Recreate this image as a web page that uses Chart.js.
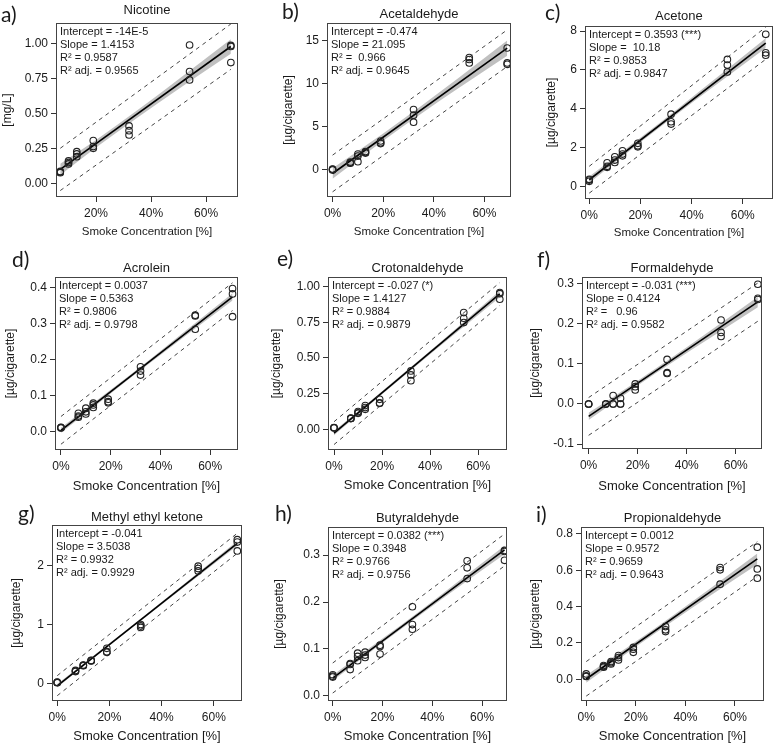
<!DOCTYPE html>
<html>
<head>
<meta charset="utf-8">
<script src="https://cdn.jsdelivr.net/npm/chart.js@4"></script>
<style>
  html, body { margin: 0; padding: 0; background: #fff; }
  #wrap { position: relative; width: 778px; height: 744px; overflow: hidden; }
  #wrap canvas { position: absolute; }
</style>
</head>
<body>
<div id="wrap"></div>
<script>
// smoke concentrations [%]
const conc = [0, 7, 10, 13, 19, 32, 54, 69];
const concNicotine = [7, 10, 13, 19, 32, 54, 69];
const bandX = [0, 20, 35, 50, 69];
const bandXNicotine = [7, 20, 35, 50, 69];
const xTicks = [0, 20, 40, 60];

// a) Nicotine
const nicotineY = [[0.08, 0.085, 0.076], [0.16, 0.148, 0.138], [0.226, 0.21, 0.19], [0.305, 0.262, 0.25], [0.41, 0.376, 0.345], [0.988, 0.798, 0.738], [0.985, 0.978, 0.862]];
const nicotineFit = [0.099, 0.977];
const nicotineBandHi = [0.139, 0.310, 0.521, 0.743, 1.029];
const nicotineBandLo = [0.059, 0.256, 0.469, 0.673, 0.925];
const nicotinePredHi = [0.25, 1.138];
const nicotinePredLo = [-0.052, 0.814];
const nicotineStats = ['Intercept = -14E-5', 'Slope = 1.4153', 'R² = 0.9587', 'R² adj. = 0.9565'];
const nicotineTicks = [0, 0.25, 0.5, 0.75, 1];

// b) Acetaldehyde
const acetaldehydeY = [[0, -0.08, 0.05], [0.85, 0.77, 0.72], [1.78, 1.55, 0.9], [2.08, 1.98, 1.9], [3.3, 3.1, 3.0], [6.96, 6.3, 5.49], [12.99, 12.76, 12.37], [14.1, 12.37, 12.2]];
const acetaldehydeFit = [-0.474, 14.08];
const acetaldehydeBandHi = [0.15, 4.18, 7.36, 10.67, 14.96];
const acetaldehydeBandLo = [-1.09, 3.32, 6.46, 9.47, 13.2];
const acetaldehydePredHi = [1.66, 16.2];
const acetaldehydePredLo = [-2.6, 11.95];
const acetaldehydeStats = ['Intercept = -0.474', 'Slope = 21.095', 'R² =  0.966', 'R² adj. = 0.9645'];
const acetaldehydeTicks = [0, 5, 10, 15];

// c) Acetone
const acetoneY = [[0.38, 0.34, 0.28], [1.23, 1.05, 1.0], [1.54, 1.37, 1.25], [1.85, 1.68, 1.59], [2.23, 2.1, 2.05], [3.73, 3.34, 3.22], [6.54, 6.25, 5.9], [7.83, 6.88, 6.76]];
const acetoneFit = [0.359, 7.383];
const acetoneBandHi = [0.53, 2.52, 4.05, 5.62, 7.63];
const acetoneBandLo = [0.19, 2.28, 3.80, 5.28, 7.13];
const acetonePredHi = [1.05, 8.2];
const acetonePredLo = [-0.33, 6.55];
const acetoneStats = ['Intercept = 0.3593 (***)', 'Slope =  10.18', 'R² = 0.9853', 'R² adj. = 0.9847'];
const acetoneTicks = [0, 2, 4, 6, 8];

// d) Acrolein
const acroleinY = [[0.012, 0.011, 0.01], [0.051, 0.043, 0.04], [0.065, 0.055, 0.049], [0.079, 0.074, 0.067], [0.09, 0.083, 0.08], [0.18, 0.168, 0.157], [0.323, 0.321, 0.284], [0.397, 0.382, 0.319]];
const acroleinFit = [0.0037, 0.374];
const acroleinBandHi = [0.0107, 0.116, 0.196, 0.279, 0.384];
const acroleinBandLo = [-0.0033, 0.106, 0.186, 0.265, 0.364];
const acroleinPredHi = [0.042, 0.413];
const acroleinPredLo = [-0.035, 0.336];
const acroleinStats = ['Intercept = 0.0037', 'Slope = 0.5363', 'R² = 0.9806', 'R² adj. = 0.9798'];
const acroleinTicks = [0, 0.1, 0.2, 0.3, 0.4];

// e) Crotonaldehyde
const crotonaldehydeY = [[0.012, 0.01, 0.011], [0.078, 0.076, 0.075], [0.124, 0.116, 0.112], [0.166, 0.152, 0.14], [0.21, 0.182, 0.185], [0.409, 0.381, 0.341], [0.818, 0.778, 0.748], [0.958, 0.95, 0.911]];
const crotonaldehydeFit = [-0.027, 0.948];
const crotonaldehydeBandHi = [-0.012, 0.267, 0.478, 0.694, 0.970];
const crotonaldehydeBandLo = [-0.042, 0.245, 0.456, 0.664, 0.926];
const crotonaldehydePredHi = [0.053, 1.028];
const crotonaldehydePredLo = [-0.107, 0.868];
const crotonaldehydeStats = ['Intercept = -0.027 (*)', 'Slope = 1.4127', 'R² = 0.9884', 'R² adj. = 0.9879'];
const crotonaldehydeTicks = [0, 0.25, 0.5, 0.75, 1];

// f) Formaldehyde
const formaldehydeY = [[0, 0, 0], [0, 0, 0], [0.021, 0, 0], [0.014, 0, 0], [0.05, 0.043, 0.035], [0.111, 0.078, 0.076], [0.209, 0.178, 0.168], [0.298, 0.263, 0.26]];
const formaldehydeFit = [-0.031, 0.254];
const formaldehydeBandHi = [-0.022, 0.058, 0.120, 0.184, 0.267];
const formaldehydeBandLo = [-0.040, 0.046, 0.107, 0.166, 0.241];
const formaldehydePredHi = [0.016, 0.301];
const formaldehydePredLo = [-0.078, 0.206];
const formaldehydeStats = ['Intercept = -0.031 (***)', 'Slope = 0.4124', 'R² =   0.96', 'R² adj. = 0.9582'];
const formaldehydeTicks = [-0.1, 0, 0.1, 0.2, 0.3];

// g) Methyl ethyl ketone
const mekY = [[0.02, 0.01, 0.015], [0.22, 0.21, 0.2], [0.31, 0.305, 0.3], [0.39, 0.385, 0.38], [0.595, 0.538, 0.527], [1.0, 0.975, 0.95], [1.99, 1.95, 1.91], [2.44, 2.4, 2.25]];
const mekFit = [-0.041, 2.377];
const mekBandHi = [-0.013, 0.679, 1.205, 1.738, 2.417];
const mekBandLo = [-0.069, 0.641, 1.165, 1.684, 2.337];
const mekPredHi = [0.13, 2.55];
const mekPredLo = [-0.21, 2.21];
const mekStats = ['Intercept = -0.041', 'Slope = 3.5038', 'R² = 0.9932', 'R² adj. = 0.9929'];
const mekTicks = [0, 1, 2];

// h) Butyraldehyde
const butyraldehydeY = [[0.045, 0.042, 0.04], [0.069, 0.067, 0.056], [0.091, 0.084, 0.075], [0.093, 0.087, 0.082], [0.108, 0.105, 0.089], [0.19, 0.152, 0.142], [0.288, 0.273, 0.25], [0.31, 0.308, 0.289]];
const butyraldehydeFit = [0.038, 0.311];
const butyraldehydeBandHi = [0.044, 0.122, 0.181, 0.242, 0.320];
const butyraldehydeBandLo = [0.032, 0.113, 0.172, 0.230, 0.302];
const butyraldehydePredHi = [0.07, 0.345];
const butyraldehydePredLo = [0.006, 0.277];
const butyraldehydeStats = ['Intercept = 0.0382 (***)', 'Slope = 0.3948', 'R² = 0.9766', 'R² adj. = 0.9756'];
const butyraldehydeTicks = [0, 0.1, 0.2, 0.3];

// i) Propionaldehyde
const propionaldehydeY = [[0.029, 0.018, 0.015], [0.075, 0.07, 0.066], [0.097, 0.09, 0.084], [0.13, 0.119, 0.106], [0.175, 0.165, 0.148], [0.29, 0.272, 0.262], [0.615, 0.602, 0.523], [0.727, 0.607, 0.556]];
const propionaldehydeFit = [0.001, 0.662];
const propionaldehydeBandHi = [0.022, 0.207, 0.351, 0.500, 0.692];
const propionaldehydeBandLo = [-0.020, 0.179, 0.321, 0.460, 0.632];
const propionaldehydePredHi = [0.097, 0.757];
const propionaldehydePredLo = [-0.093, 0.566];
const propionaldehydeStats = ['Intercept = 0.0012', 'Slope = 0.9572', 'R² = 0.9659', 'R² adj. = 0.9643'];
const propionaldehydeTicks = [0, 0.2, 0.4, 0.6, 0.8];

const UG = '[µg/cigarette]';
const panels = [
    { letter: 'a', title: 'Nicotine', unit: '[mg/L]', x: concNicotine, y: nicotineY, fit: nicotineFit, bx: bandXNicotine, hi: nicotineBandHi, lo: nicotineBandLo, phi: nicotinePredHi, plo: nicotinePredLo, stats: nicotineStats, yTicks: nicotineTicks, dec: 2, xr: [5.45, 71.6], yr: [-0.098, 1.145] },
    { letter: 'b', title: 'Acetaldehyde', unit: UG, x: conc, y: acetaldehydeY, fit: acetaldehydeFit, bx: bandX, hi: acetaldehydeBandHi, lo: acetaldehydeBandLo, phi: acetaldehydePredHi, plo: acetaldehydePredLo, stats: acetaldehydeStats, yTicks: acetaldehydeTicks, dec: 0, xr: [-2.2, 70.5], yr: [-3.2, 17.0] },
    { letter: 'c', title: 'Acetone', unit: UG, x: conc, y: acetoneY, fit: acetoneFit, bx: bandX, hi: acetoneBandHi, lo: acetoneBandLo, phi: acetonePredHi, plo: acetonePredLo, stats: acetoneStats, yTicks: acetoneTicks, dec: 0, xr: [-1.65, 71.8], yr: [-0.63, 8.26] },
    { letter: 'd', title: 'Acrolein', unit: UG, x: conc, y: acroleinY, fit: acroleinFit, bx: bandX, hi: acroleinBandHi, lo: acroleinBandLo, phi: acroleinPredHi, plo: acroleinPredLo, stats: acroleinStats, yTicks: acroleinTicks, dec: 1, xr: [-2.4, 71.2], yr: [-0.051, 0.429] },
    { letter: 'e', title: 'Crotonaldehyde', unit: UG, x: conc, y: crotonaldehydeY, fit: crotonaldehydeFit, bx: bandX, hi: crotonaldehydeBandHi, lo: crotonaldehydeBandLo, phi: crotonaldehydePredHi, plo: crotonaldehydePredLo, stats: crotonaldehydeStats, yTicks: crotonaldehydeTicks, dec: 2, xr: [-2.5, 72], yr: [-0.145, 1.067] },
    { letter: 'f', title: 'Formaldehyde', unit: UG, x: conc, y: formaldehydeY, fit: formaldehydeFit, bx: bandX, hi: formaldehydeBandHi, lo: formaldehydeBandLo, phi: formaldehydePredHi, plo: formaldehydePredLo, stats: formaldehydeStats, yTicks: formaldehydeTicks, dec: 1, xr: [-2.7, 70.7], yr: [-0.112, 0.316] },
    { letter: 'g', title: 'Methyl ethyl ketone', unit: UG, x: conc, y: mekY, fit: mekFit, bx: bandX, hi: mekBandHi, lo: mekBandLo, phi: mekPredHi, plo: mekPredLo, stats: mekStats, yTicks: mekTicks, dec: 0, xr: [-2.0, 70.8], yr: [-0.30, 2.69] },
    { letter: 'h', title: 'Butyraldehyde', unit: UG, x: conc, y: butyraldehydeY, fit: butyraldehydeFit, bx: bandX, hi: butyraldehydeBandHi, lo: butyraldehydeBandLo, phi: butyraldehydePredHi, plo: butyraldehydePredLo, stats: butyraldehydeStats, yTicks: butyraldehydeTicks, dec: 1, xr: [-1.9, 70.0], yr: [-0.011, 0.36] },
    { letter: 'i', title: 'Propionaldehyde', unit: UG, x: conc, y: propionaldehydeY, fit: propionaldehydeFit, bx: bandX, hi: propionaldehydeBandHi, lo: propionaldehydeBandLo, phi: propionaldehydePredHi, plo: propionaldehydePredLo, stats: propionaldehydeStats, yTicks: propionaldehydeTicks, dec: 1, xr: [-2.1, 71.7], yr: [-0.12, 0.838] }
];

// page layout: plot box [L,T,R,B], title baseline, y title x, x title y, letter position
const colLeft = [0, 260, 518], colWidth = [260, 258, 260];
const rowTop = [0, 240, 490], rowHeight = [246, 256, 254];
const boxes = [
    { box: [56, 23, 238, 197], titleY: 13.5, yTitleX: 8, xTitleY: 232, lx: 1, ly: 22 },
    { box: [327, 23, 511, 197], titleY: 18, yTitleX: 289, xTitleY: 232, lx: 282, ly: 19 },
    { box: [585, 26, 776, 199], titleY: 20, yTitleX: 552, xTitleY: 233, lx: 545, ly: 20 },
    { box: [55, 277, 238, 450], titleY: 272, yTitleX: 11, xTitleY: 486, lx: 12, ly: 267 },
    { box: [328, 277, 507, 450], titleY: 272, yTitleX: 277, xTitleY: 485, lx: 277, ly: 266 },
    { box: [582, 277, 762, 449], titleY: 272, yTitleX: 536, xTitleY: 486, lx: 537, ly: 267 },
    { box: [52, 525, 242, 701], titleY: 521, yTitleX: 17, xTitleY: 736, lx: 18, ly: 521 },
    { box: [328, 527, 507, 701], titleY: 522, yTitleX: 280, xTitleY: 736, lx: 275, ly: 521 },
    { box: [581, 527, 764, 701], titleY: 522, yTitleX: 536, xTitleY: 736, lx: 536, ly: 522 }
];

const SANS = '"Liberation Sans", Arial, sans-serif';
const INK = '#1a1a1a';

document.addEventListener('DOMContentLoaded', () => {
    panels.forEach((p, i) => makePanel(p, boxes[i], i));
});

function makePanel(p, lay, i) {
    const col = i % 3, row = Math.floor(i / 3);
    const ox = colLeft[col], oy = rowTop[row], w = colWidth[col], h = rowHeight[row];
    const [L, T, R, B] = lay.box;

    const canvas = document.createElement('canvas');
    canvas.width = w;
    canvas.height = h;
    canvas.style.left = ox + 'px';
    canvas.style.top = oy + 'px';
    canvas.style.width = w + 'px';
    canvas.style.height = h + 'px';
    document.getElementById('wrap').appendChild(canvas);

    const points = [];
    p.x.forEach((xv, k) => p.y[k].forEach(yv => points.push({ x: xv, y: yv })));
    const ends = [p.x[0], p.x[p.x.length - 1]];
    const pairs = (xs, ys) => xs.map((x, k) => ({ x: x, y: ys[k] }));
    const shownX = xTicks.filter(v => v >= p.xr[0] && v <= p.xr[1]);

    new Chart(canvas, {
        type: 'scatter',
        data: {
            datasets: [
                {
                    type: 'line', order: 4, data: pairs(p.bx, p.hi),
                    borderColor: 'rgba(0,0,0,0)', borderWidth: 0, pointRadius: 0,
                    fill: false, cubicInterpolationMode: 'monotone'
                },
                {
                    type: 'line', order: 4, data: pairs(p.bx, p.lo),
                    borderColor: 'rgba(0,0,0,0)', borderWidth: 0, pointRadius: 0,
                    fill: '-1', backgroundColor: 'rgba(130,130,130,0.5)', cubicInterpolationMode: 'monotone'
                },
                {
                    type: 'line', order: 3, data: pairs(ends, p.phi),
                    borderColor: '#444', borderWidth: 1, borderDash: [4, 4], pointRadius: 0, fill: false
                },
                {
                    type: 'line', order: 3, data: pairs(ends, p.plo),
                    borderColor: '#444', borderWidth: 1, borderDash: [4, 4], pointRadius: 0, fill: false
                },
                {
                    type: 'line', order: 2, data: pairs(ends, p.fit),
                    borderColor: '#000', borderWidth: 1.6, pointRadius: 0, fill: false
                },
                {
                    type: 'scatter', order: 1, data: points,
                    pointRadius: 3.3, borderWidth: 1.1, borderColor: '#222',
                    backgroundColor: 'rgba(0,0,0,0)'
                }
            ]
        },
        options: {
            responsive: false,
            animation: false,
            devicePixelRatio: 1,
            layout: { padding: { left: 0, top: T - oy, right: ox + w - R, bottom: 0 } },
            plugins: { legend: { display: false }, tooltip: { enabled: false } },
            scales: {
                x: {
                    type: 'linear', min: p.xr[0], max: p.xr[1],
                    afterBuildTicks: s => { s.ticks = shownX.map(v => ({ value: v })); },
                    afterFit: s => { s.height = oy + h - B; },
                    ticks: {
                        callback: v => v + '%', autoSkip: false, maxRotation: 0,
                        padding: 4, color: INK, font: { family: SANS, size: 12 }
                    },
                    grid: { display: true, drawOnChartArea: false, drawTicks: true, tickLength: 5, color: '#333' },
                    border: { display: false }
                },
                y: {
                    type: 'linear', min: p.yr[0], max: p.yr[1],
                    afterBuildTicks: s => { s.ticks = p.yTicks.map(v => ({ value: v })); },
                    afterFit: s => { s.width = L - ox; },
                    ticks: {
                        callback: v => Number(v).toFixed(p.dec), autoSkip: false,
                        padding: 3, color: INK, font: { family: SANS, size: 12 }
                    },
                    grid: { display: true, drawOnChartArea: false, drawTicks: true, tickLength: 5, color: '#333' },
                    border: { display: false }
                }
            }
        },
        plugins: [{ id: 'decor', afterDraw: c => drawDecor(c, p, lay, ox, oy, row) }]
    });
}

function drawDecor(chart, p, lay, ox, oy, row) {
    const ctx = chart.ctx, a = chart.chartArea;
    const cxm = (a.left + a.right) / 2;
    ctx.save();

    // frame
    ctx.strokeStyle = '#444';
    ctx.lineWidth = 1;
    ctx.strokeRect(Math.round(a.left) + 0.5, Math.round(a.top) + 0.5, Math.round(a.right - a.left) - 1, Math.round(a.bottom - a.top) - 1);

    ctx.fillStyle = INK;

    // panel title
    ctx.font = '13px ' + SANS;
    ctx.textAlign = 'center';
    ctx.textBaseline = 'alphabetic';
    ctx.fillText(p.title, cxm, lay.titleY - oy);

    // panel letter
    ctx.font = '21px Lato, "Open Sans", sans-serif';
    ctx.textAlign = 'left';
    ctx.fillText(p.letter + ')', lay.lx - ox, lay.ly - oy);

    // x axis title
    ctx.font = (row === 0 ? '11.5px ' : '13px ') + SANS;
    ctx.textAlign = 'center';
    ctx.textBaseline = 'middle';
    ctx.fillText('Smoke Concentration [%]', cxm, lay.xTitleY - oy);

    // y axis title
    ctx.save();
    ctx.translate(lay.yTitleX - ox, (a.top + a.bottom) / 2);
    ctx.rotate(-Math.PI / 2);
    ctx.font = '12px ' + SANS;
    ctx.fillText(p.unit, 0, 0);
    ctx.restore();

    // regression stats
    ctx.font = '11px ' + SANS;
    ctx.textAlign = 'left';
    ctx.textBaseline = 'top';
    p.stats.forEach((s, k) => ctx.fillText(s, a.left + 4, a.top + 3 + k * 13.3));

    ctx.restore();
}
</script>
</body>
</html>
